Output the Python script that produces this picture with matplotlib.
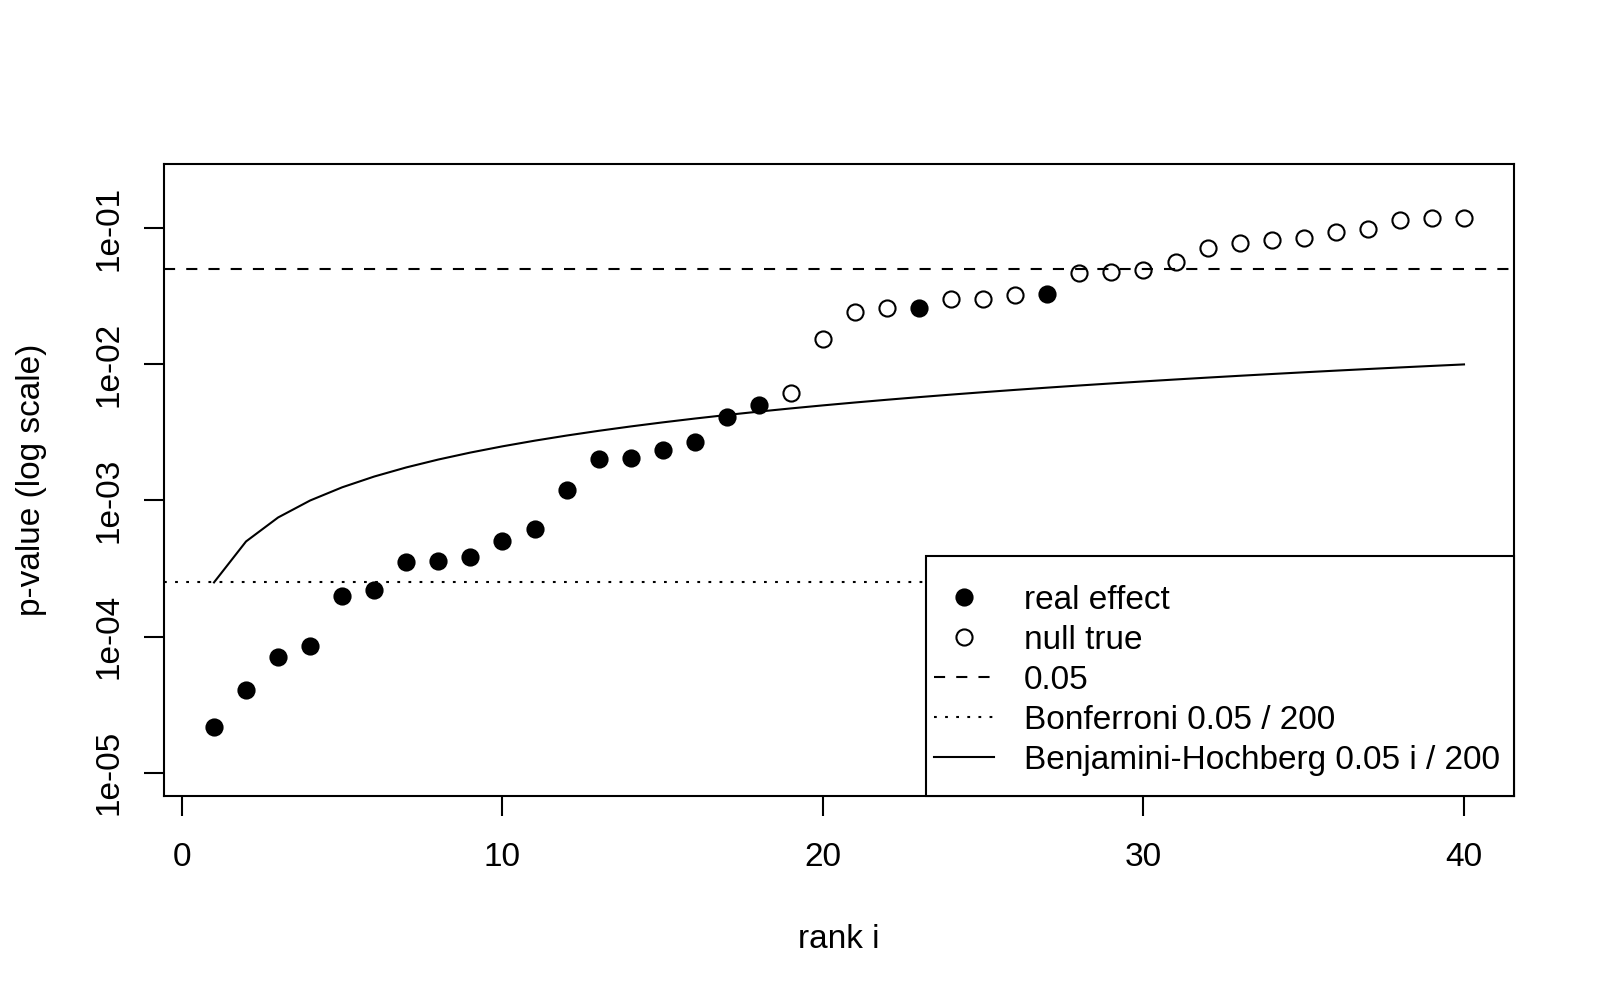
import numpy as np
import matplotlib
matplotlib.use("Agg")
from matplotlib import pyplot as plt
from matplotlib.lines import Line2D
from matplotlib.patches import Rectangle
from matplotlib.ticker import FixedLocator, FixedFormatter, NullLocator

plt.rcParams['font.family'] = ['Liberation Sans', 'DejaVu Sans']
plt.rcParams['font.size'] = 12
plt.rcParams['lines.scale_dashes'] = False

# sorted p-values
rank = np.arange(1, 41)
p_values = np.array([
    2.15e-5, 4.08e-5, 7.08e-5, 8.45e-5, 1.98e-4, 2.19e-4, 3.52e-4, 3.60e-4,
    3.86e-4, 5.04e-4, 6.21e-4, 1.19e-3, 2.03e-3, 2.06e-3, 2.35e-3, 2.69e-3,
    4.13e-3, 5.02e-3, 6.17e-3, 0.0155, 0.0243, 0.0258, 0.0261, 0.0300,
    0.0302, 0.0326, 0.0327, 0.0472, 0.0481, 0.0494, 0.0570, 0.0714,
    0.0778, 0.0824, 0.0848, 0.0933, 0.0993, 0.116, 0.119, 0.120])
real_effect = np.array([True] * 18 + [False] * 4 + [True] + [False] * 3
                       + [True] + [False] * 13)

alpha = 0.05
m = 200

x_ticks = [0, 10, 20, 30, 40]
y_ticks = [1e-5, 1e-4, 1e-3, 1e-2, 1e-1]
y_tick_labels = ['1e-05', '1e-04', '1e-03', '1e-02', '1e-01']

legend_labels = ['real effect', 'null true', '0.05',
                 'Bonferroni 0.05 / 200', 'Benjamini-Hochberg 0.05 i / 200']

fig = plt.figure(figsize=(8, 5), dpi=200)
ax = fig.add_axes([0.1025, 0.204, 0.84375, 0.632])
ax.set_yscale('log')

lw = 0.75
ax.axhline(alpha, color='black', lw=lw, dashes=(4, 4))
ax.axhline(alpha / m, color='black', lw=lw, dashes=(1, 3))
ax.plot(rank, alpha * rank / m, color='black', lw=lw)

ax.plot(rank[real_effect], p_values[real_effect], 'o', color='black',
        ms=5.8, mew=lw, linestyle='none')
ax.plot(rank[~real_effect], p_values[~real_effect], 'o', color='black',
        mfc='none', ms=5.8, mew=lw, linestyle='none')

ax.set_xlim(-0.56, 41.56)
ax.set_ylim(10 ** -5.172, 10 ** -0.527)

ax.xaxis.set_major_locator(FixedLocator(x_ticks))
ax.yaxis.set_major_locator(FixedLocator(y_ticks))
ax.yaxis.set_major_formatter(FixedFormatter(y_tick_labels))
ax.yaxis.set_minor_locator(NullLocator())
ax.tick_params(length=7.2, width=lw, direction='out', pad=7, labelsize=12)
ax.tick_params(axis='x', pad=9.5)
ax.tick_params(axis='y', labelrotation=90)
for lab in ax.get_yticklabels():
    lab.set_va('center')
for s in ax.spines.values():
    s.set_linewidth(lw)

ax.set_xlabel('rank i', va='center')
ax.xaxis.set_label_coords(0.5, -0.227)
ax.set_ylabel('p-value (log scale)', va='center')
ax.yaxis.set_label_coords(-0.0985, 0.5)

# legend box in the R style: small side padding, larger top/bottom padding
ax.add_patch(Rectangle((0.5644, 0), 1 - 0.5644, 0.379, transform=ax.transAxes,
                       facecolor='white', edgecolor='black', lw=lw,
                       zorder=4, clip_on=False))

handles = [
    Line2D([], [], marker='o', color='black', ms=5.8, mew=lw, linestyle='none'),
    Line2D([], [], marker='o', color='black', mfc='none', ms=5.8, mew=lw, linestyle='none'),
    Line2D([], [], color='black', lw=lw, dashes=(4, 4)),
    Line2D([], [], color='black', lw=lw, dashes=(1, 3)),
    Line2D([], [], color='black', lw=lw),
]
leg = ax.legend(handles, legend_labels, loc='upper left',
                bbox_to_anchor=(0.5705, 0.3346), borderaxespad=0,
                frameon=False, handlelength=1.8, handletextpad=0.9,
                borderpad=0, labelspacing=0.27, fontsize=12)
leg.set_zorder(5)

fig.savefig('out.png', dpi=200)
